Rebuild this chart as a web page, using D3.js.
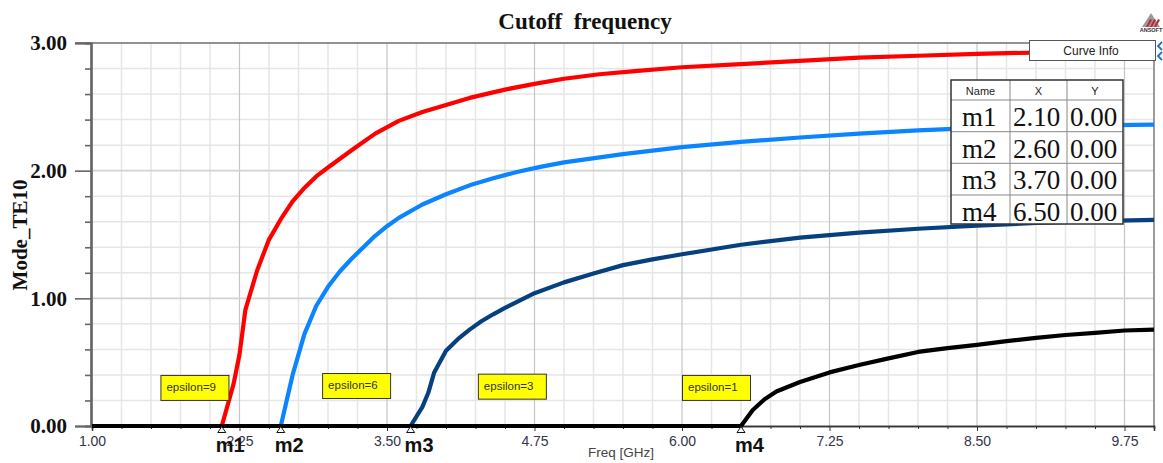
<!DOCTYPE html>
<html>
<head>
<meta charset="utf-8">
<script src="https://cdn.jsdelivr.net/npm/d3@7"></script>
<style>
  html, body { margin: 0; padding: 0; background: #fff; }
  svg { display: block; }
</style>
</head>
<body>
<div id="chart"></div>
<script>
// ---- Data: TE10 mode value versus frequency for four dielectric fills ----
const epsilon9 = [[1.00,0],[2.10,0],[2.20,0.33],[2.25,0.56],[2.30,0.91],[2.40,1.22],[2.50,1.46],[2.60,1.62],[2.70,1.76],[2.80,1.865],[2.90,1.955],[3.00,2.025],[3.20,2.16],[3.40,2.29],[3.60,2.39],[3.80,2.46],[4.00,2.515],[4.20,2.57],[4.50,2.635],[4.75,2.68],[5.00,2.72],[5.30,2.755],[5.60,2.78],[6.00,2.81],[6.50,2.835],[7.00,2.86],[7.50,2.885],[8.00,2.90],[8.50,2.915],[9.00,2.925],[9.50,2.935],[10.00,2.94]];
const epsilon6 = [[1.00,0],[2.60,0],[2.70,0.40],[2.80,0.72],[2.90,0.94],[3.00,1.09],[3.10,1.21],[3.20,1.31],[3.30,1.40],[3.40,1.49],[3.50,1.565],[3.60,1.63],[3.80,1.735],[4.00,1.815],[4.20,1.885],[4.40,1.94],[4.60,1.99],[4.80,2.03],[5.00,2.065],[5.50,2.13],[6.00,2.185],[6.50,2.225],[7.00,2.26],[7.50,2.29],[8.00,2.315],[8.50,2.335],[9.00,2.345],[9.50,2.355],[10.00,2.36]];
const epsilon3 = [[1.00,0],[3.70,0],[3.80,0.15],[3.85,0.26],[3.90,0.42],[4.00,0.59],[4.10,0.68],[4.20,0.755],[4.30,0.82],[4.40,0.875],[4.50,0.925],[4.75,1.04],[5.00,1.125],[5.25,1.195],[5.50,1.26],[5.75,1.305],[6.00,1.345],[6.50,1.42],[7.00,1.475],[7.50,1.515],[8.00,1.545],[8.50,1.57],[9.00,1.59],[9.50,1.605],[10.00,1.615]];
const epsilon1 = [[1.00,0],[6.50,0],[6.60,0.125],[6.70,0.21],[6.80,0.27],[7.00,0.345],[7.25,0.42],[7.50,0.478],[7.75,0.53],[8.00,0.58],[8.25,0.61],[8.50,0.635],[8.75,0.665],[9.00,0.69],[9.25,0.713],[9.50,0.73],[9.75,0.748],[10.00,0.755]];

const seriesNames = ["epsilon=9", "epsilon=6", "epsilon=3", "epsilon=1"];
const seriesColors = ["#ff0000", "#0a84ff", "#06407e", "#000000"];

// Cutoff markers
const markerNames = ["m1", "m2", "m3", "m4"];
const markerX = [2.10, 2.60, 3.70, 6.50];
const markerY = [0.00, 0.00, 0.00, 0.00];

// Axis ticks
const xTicks = [1.00, 2.25, 3.50, 4.75, 6.00, 7.25, 8.50, 9.75];
const yTicks = [0, 1, 2, 3];

// Annotation anchors (top-left corner, data units)
const labelAnchorF = [1.58, 2.95, 4.27, 6.00];
const labelAnchorV = [0.40, 0.415, 0.41, 0.40];

// ---- Layout ----
const W = 1163, H = 463;
const plotL = 92, plotR = 1154, plotT = 43, plotB = 426;

const svg = d3.select("#chart").append("svg")
  .attr("width", W).attr("height", H)
  .style("font-family", "'Liberation Sans', Arial, sans-serif");

svg.append("rect").attr("width", W).attr("height", H).attr("fill", "#fff");

const x = d3.scaleLinear().domain([1, 10]).range([plotL, plotR]);
const y = d3.scaleLinear().domain([0, 3]).range([plotB, plotT]);

// ---- Grid ----
const grid = svg.append("g");
const minorX = d3.range(1, 10.001, 0.25).filter(v => !xTicks.some(t => Math.abs(t - v) < 1e-6));
const minorY = d3.range(0, 3.001, 0.2).filter(v => !yTicks.some(t => Math.abs(t - v) < 1e-6));

grid.selectAll(".gxm").data(minorX).join("line")
  .attr("x1", d => x(d)).attr("x2", d => x(d))
  .attr("y1", plotT).attr("y2", plotB)
  .attr("stroke", "#e6e6e6").attr("stroke-width", 1.5);
grid.selectAll(".gym").data(minorY).join("line")
  .attr("y1", d => y(d)).attr("y2", d => y(d))
  .attr("x1", plotL).attr("x2", plotR)
  .attr("stroke", "#e6e6e6").attr("stroke-width", 1.5);
grid.selectAll(".gxM").data(xTicks.slice(1)).join("line")
  .attr("x1", d => x(d)).attr("x2", d => x(d))
  .attr("y1", plotT).attr("y2", plotB)
  .attr("stroke", "#c6c6c6").attr("stroke-width", 1.2);
grid.selectAll(".gyM").data(yTicks.slice(1, 3)).join("line")
  .attr("y1", d => y(d)).attr("y2", d => y(d))
  .attr("x1", plotL).attr("x2", plotR)
  .attr("stroke", "#d2d2d2").attr("stroke-width", 1.6);

// ---- Frame ----
svg.append("line").attr("x1", 75).attr("x2", plotR).attr("y1", plotT).attr("y2", plotT)
  .attr("stroke", "#6e6e6e").attr("stroke-width", 1.6);
svg.append("line").attr("x1", plotR).attr("x2", plotR).attr("y1", plotT).attr("y2", plotB)
  .attr("stroke", "#7a7a7a").attr("stroke-width", 1.4);

// ---- Axes ----
const xAxisMinor = d3.axisBottom(x).tickValues(minorX).tickSize(3).tickFormat("");
const xAxisMajor = d3.axisBottom(x).tickValues(xTicks).tickSize(5).tickFormat(d3.format(".2f")).tickPadding(5);
const gxMinor = svg.append("g").attr("transform", `translate(0,${plotB})`).call(xAxisMinor);
const gx = svg.append("g").attr("transform", `translate(0,${plotB})`).call(xAxisMajor);
[gxMinor, gx].forEach(g => {
  g.select(".domain").attr("stroke", "#333").attr("stroke-width", 1.5);
  g.selectAll(".tick line").attr("stroke", "#333").attr("stroke-width", 1);
});
gx.selectAll(".tick text")
  .attr("fill", "#34344a").attr("font-size", 14)
  .attr("font-family", "'Liberation Sans', Arial, sans-serif");

const yAxisMinor = d3.axisLeft(y).tickValues(minorY).tickSize(6).tickFormat("");
const yAxisMajor = d3.axisLeft(y).tickValues(yTicks).tickSize(16).tickPadding(8).tickFormat(d3.format(".2f"));
const gyMinor = svg.append("g").attr("transform", `translate(${plotL - 1},0)`).call(yAxisMinor);
const gy = svg.append("g").attr("transform", `translate(${plotL - 1},0)`).call(yAxisMajor);
[gyMinor, gy].forEach(g => {
  g.select(".domain").attr("stroke", "#666").attr("stroke-width", 2.2);
  g.selectAll(".tick line").attr("stroke", "#666").attr("stroke-width", 1.6);
});
gy.selectAll(".tick text")
  .attr("fill", "#111").attr("font-size", 21).attr("font-weight", "bold")
  .attr("font-family", "'Liberation Serif', 'Times New Roman', serif")
  .attr("dy", "0.33em");

// ---- Titles ----
svg.append("text").attr("x", 585).attr("y", 29).attr("text-anchor", "middle")
  .attr("font-family", "'Liberation Serif', 'Times New Roman', serif")
  .attr("font-weight", "bold").attr("font-size", 23).attr("fill", "#111")
  .style("white-space", "pre").text("Cutoff  frequency");

svg.append("text").attr("transform", "translate(27,235) rotate(-90)")
  .attr("text-anchor", "middle")
  .attr("font-family", "'Liberation Serif', 'Times New Roman', serif")
  .attr("font-weight", "bold").attr("font-size", 21).attr("fill", "#111")
  .text("Mode_TE10");

svg.append("text").attr("x", 621).attr("y", 457).attr("text-anchor", "middle")
  .attr("font-size", 13.5).attr("fill", "#444").text("Freq [GHz]");

// ---- Curves ----
svg.append("clipPath").attr("id", "plotClip").append("rect")
  .attr("x", plotL).attr("y", plotT - 3).attr("width", plotR - plotL).attr("height", plotB - plotT + 6);

const line = d3.line().x(d => x(d[0])).y(d => y(d[1]));
const allSeries = [epsilon9, epsilon6, epsilon3, epsilon1];
svg.append("g").attr("clip-path", "url(#plotClip)")
  .selectAll("path").data(allSeries).join("path")
  .attr("d", line)
  .attr("fill", "none")
  .attr("stroke", (d, i) => seriesColors[i])
  .attr("stroke-width", 4.2)
  .attr("stroke-linejoin", "round");

// ---- Markers ----
const mk = svg.append("g");
markerX.forEach((mx, i) => {
  const px = x(mx), py = y(markerY[i]);
  mk.append("path")
    .attr("d", `M${px},${py + 0.5} L${px + 4},${py + 6.5} L${px - 4},${py + 6.5} Z`)
    .attr("fill", "#fff").attr("stroke", "#111").attr("stroke-width", 1);
  mk.append("text").attr("x", px - 6).attr("y", 451.5)
    .attr("font-weight", "bold").attr("font-size", 20).attr("fill", "#111")
    .text(markerNames[i]);
});

// ---- Series annotations ----
const ann = svg.append("g");
seriesNames.forEach((name, i) => {
  const ax = x(labelAnchorF[i]), ay = y(labelAnchorV[i]);
  ann.append("rect").attr("x", ax + 0.5).attr("y", ay + 0.5)
    .attr("width", 68).attr("height", 25)
    .attr("fill", "#ffff00").attr("stroke", "#333").attr("stroke-width", 1);
  ann.append("text").attr("x", ax + 6).attr("y", ay + 16)
    .attr("font-size", 11.5).attr("fill", "#333").text(name);
});

// ---- Curve Info button ----
svg.append("rect").attr("x", 1029.5).attr("y", 40.5).attr("width", 126).attr("height", 20)
  .attr("fill", "#fff").attr("stroke", "#555").attr("stroke-width", 1);
svg.append("text").attr("x", 1091).attr("y", 55).attr("text-anchor", "middle")
  .attr("font-size", 12).attr("fill", "#222").text("Curve Info");
svg.append("path")
  .attr("d", "M1162,42 L1158,46 L1162,50 M1162,52 L1158,56 L1162,60")
  .attr("fill", "none").attr("stroke", "#1f6fd0").attr("stroke-width", 1.8);

// ---- Marker table ----
const tbl = svg.append("g");
const colX = [951, 1010, 1067, 1123];
const rowY = [80, 100, 131.7, 163.3, 195, 224];
tbl.append("rect").attr("x", colX[0]).attr("y", rowY[0])
  .attr("width", colX[3] - colX[0]).attr("height", rowY[5] - rowY[0])
  .attr("fill", "#fff");
rowY.slice(1, 5).forEach(ry => tbl.append("line")
  .attr("x1", colX[0]).attr("x2", colX[3]).attr("y1", ry).attr("y2", ry)
  .attr("stroke", "#888").attr("stroke-width", 1));
colX.slice(1, 3).forEach(cx => tbl.append("line")
  .attr("x1", cx).attr("x2", cx).attr("y1", rowY[0]).attr("y2", rowY[5])
  .attr("stroke", "#888").attr("stroke-width", 1));
tbl.append("rect").attr("x", colX[0]).attr("y", rowY[0])
  .attr("width", colX[3] - colX[0]).attr("height", rowY[5] - rowY[0])
  .attr("fill", "none").attr("stroke", "#333").attr("stroke-width", 1.5);
["Name", "X", "Y"].forEach((h, j) => tbl.append("text")
  .attr("x", (colX[j] + colX[j + 1]) / 2).attr("y", 94.5)
  .attr("text-anchor", "middle").attr("font-size", 11).attr("fill", "#222").text(h));
const fmt = d3.format(".2f");
markerNames.forEach((n, i) => {
  const cells = [n, fmt(markerX[i]), fmt(markerY[i])];
  const base = rowY[i + 1] + 26;
  cells.forEach((c, j) => tbl.append("text")
    .attr("x", j === 0 ? colX[0] + 11 : colX[j] + 3).attr("y", base)
    .attr("font-family", "'Liberation Serif', 'Times New Roman', serif")
    .attr("font-size", 27).attr("fill", "#111").text(c));
});

// ---- Logo ----
const logo = svg.append("g");
logo.append("path").attr("d", "M1151,13 L1160,27 L1142,27 Z").attr("fill", "#9a9a9a");
[0, 1, 2].forEach(k => logo.append("path")
  .attr("d", `M${1146 + k * 4},27 L${1150 + k * 4},19 L${1152 + k * 4},20 L${1148 + k * 4},27 Z`)
  .attr("fill", "#c0282d"));
logo.append("text").attr("x", 1151).attr("y", 32).attr("text-anchor", "middle")
  .attr("font-size", 5.5).attr("font-weight", "bold").attr("fill", "#333").text("ANSOFT");
</script>
</body>
</html>
